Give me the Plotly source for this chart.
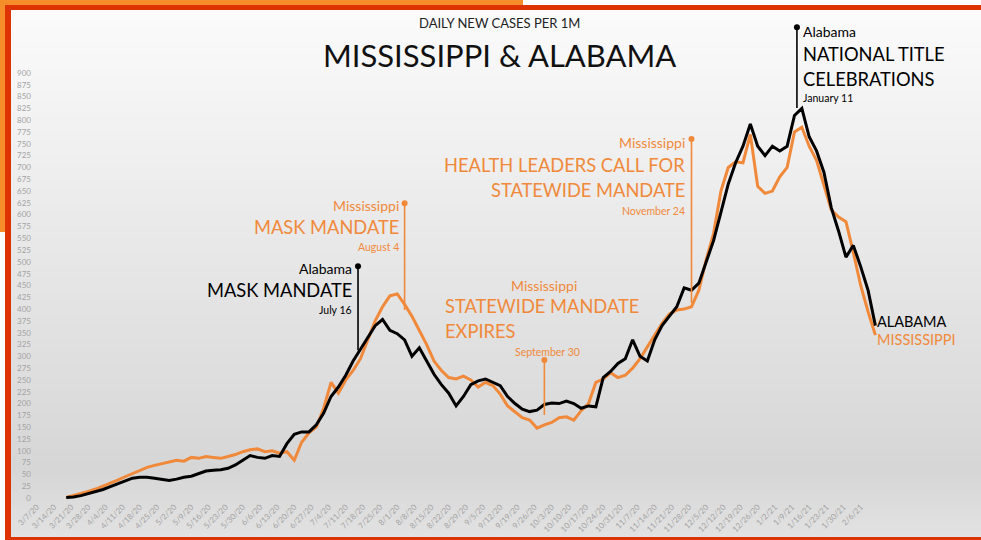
import plotly.graph_objects as go
import pandas as pd

# ---------------- data ----------------
start_date = "2020-03-19"
step_days = 3
alabama = [1, 2, 5, 9, 13, 18, 24, 30, 37, 42, 44, 44, 42, 40, 37, 40, 44, 46, 51, 57,
           59, 60, 63, 70, 80, 90, 86, 84, 90, 88, 115, 135, 140, 140, 155, 180, 215, 235, 260, 290,
           315, 340, 365, 378, 355, 348, 335, 300, 318, 290, 262, 240, 222, 195, 215, 240, 248, 252, 245, 238,
           215, 200, 188, 183, 186, 198, 201, 200, 205, 200, 190, 195, 193, 255, 268, 285, 295, 335, 300, 290,
           335, 365, 385, 405, 445, 440, 455, 500, 545, 605, 665, 710, 745, 792, 745, 725, 745, 735, 745, 810,
           825, 765, 735, 690, 615, 565, 510, 535, 490, 440, 365]
mississippi = [1, 5, 9, 14, 19, 25, 31, 38, 45, 52, 58, 65, 69, 73, 76, 80, 78, 86, 84, 88,
               86, 84, 88, 92, 98, 102, 104, 98, 100, 95, 98, 80, 118, 138, 150, 190, 245, 222, 250, 270,
               295, 335, 375, 405, 428, 432, 410, 385, 355, 325, 290, 270, 255, 252, 258, 250, 235, 245, 238, 220,
               195, 182, 170, 165, 148, 155, 160, 170, 172, 165, 185, 200, 245, 252, 265, 255, 260, 275, 295, 320,
               345, 370, 390, 398, 400, 405, 440, 505, 560, 650, 700, 712, 710, 770, 660, 645, 650, 680, 700, 775,
               785, 745, 715, 660, 610, 595, 585, 520, 450, 395, 345]

tick_dates = pd.date_range("2020-03-07", "2021-02-06", freq="7D")
tick_labels = [f"{d.month}/{d.day}/{d.strftime('%y')}" for d in tick_dates]
y_ticks = list(range(0, 901, 25))

event_dates = ["2020-07-16", "2020-08-04", "2020-09-30", "2020-11-29", "2021-01-11"]
event_tops = [491, 624, 292, 760, 997]
event_bottoms = [313, 398, 176, 413, 826]
event_state = ["Alabama", "Mississippi", "Mississippi", "Mississippi", "Alabama"]
event_titles = [["MASK MANDATE"], ["MASK MANDATE"], ["STATEWIDE MANDATE", "EXPIRES"],
                ["HEALTH LEADERS CALL FOR", "STATEWIDE MANDATE"], ["NATIONAL TITLE", "CELEBRATIONS"]]
event_labels = ["July 16", "August 4", "September 30", "November 24", "January 11"]

ORANGE = "#F0893A"
BLACK = "#000000"
FONT = "Lato"

dates = pd.date_range(start_date, periods=len(alabama), freq=f"{step_days}D")

W, H = 981, 540
def px(x):
    return x / W
def py(y):
    return 1 - y / H

fig = go.Figure()
fig.add_trace(go.Scatter(x=dates, y=mississippi, mode="lines",
                         line=dict(color=ORANGE, width=3), showlegend=False, hoverinfo="skip"))
fig.add_trace(go.Scatter(x=dates, y=alabama, mode="lines",
                         line=dict(color=BLACK, width=3), showlegend=False, hoverinfo="skip"))

annotations = []
for d, top, bot, st in zip(event_dates, event_tops, event_bottoms, event_state):
    col = BLACK if st == "Alabama" else ORANGE
    fig.add_trace(go.Scatter(x=[d, d], y=[top, bot], mode="lines", line=dict(color=col, width=1.6),
                             showlegend=False, hoverinfo="skip", cliponaxis=False))
    fig.add_trace(go.Scatter(x=[d], y=[top], mode="markers", marker=dict(color=col, size=6),
                             showlegend=False, hoverinfo="skip", cliponaxis=False))

TS = 18.3
# text placement per event (pixel offsets relative to top dot)
layouts = [
    dict(anchor="right", xs=-4, state=(0, -2), titles=[(0, -24)], lab=(0, -44)),
    dict(anchor="right", xs=-4, state=(0, -2), titles=[(0, -24)], lab=(0, -44)),
    dict(anchor="left", xs=-101, state=(0, 75, "center"), titles=[(0, 54), (0, 29)], lab=(3, 8, "center")),
    dict(anchor="right", xs=-4, state=(0, -3), titles=[(0, -26), (0, -51)], lab=(0, -72)),
    dict(anchor="left", xs=4, state=(0, -4), titles=[(0, -27), (0, -52)], lab=(0, -71)),
]
for i, (d, top, st, titles, lab) in enumerate(zip(event_dates, event_tops, event_state, event_titles, event_labels)):
    col = BLACK if st == "Alabama" else ORANGE
    L = layouts[i]
    def add(text, size, off):
        if len(off) == 3:
            anchor, xs = "center", off[0]
        else:
            anchor, xs = L["anchor"], L["xs"]
        annotations.append(dict(x=d, y=top, xref="x", yref="y", text=text, showarrow=False,
                                xanchor=anchor, yanchor="middle", xshift=xs, yshift=off[1],
                                font=dict(family=FONT, size=size, color=col)))
    add(st, 14, L["state"])
    for t, off in zip(titles, L["titles"]):
        add(t, TS, off)
    add(lab, 10.5, L["lab"])

# end labels
annotations.append(dict(x=dates[-1], y=alabama[-1], xref="x", yref="y", text="ALABAMA", showarrow=False,
                        xanchor="left", yanchor="middle", xshift=0, yshift=4,
                        font=dict(family=FONT, size=14.5, color=BLACK)))
annotations.append(dict(x=dates[-1], y=mississippi[-1], xref="x", yref="y", text="MISSISSIPPI", showarrow=False,
                        xanchor="left", yanchor="middle", xshift=0, yshift=-4,
                        font=dict(family=FONT, size=14.5, color=ORANGE)))
# titles
annotations.append(dict(x=px(499), y=py(23), xref="paper", yref="paper", text="DAILY NEW CASES PER 1M",
                        showarrow=False, xanchor="center", yanchor="middle",
                        font=dict(family=FONT, size=13, color="#222222")))
annotations.append(dict(x=px(499), y=py(55), xref="paper", yref="paper", text="MISSISSIPPI & ALABAMA",
                        showarrow=False, xanchor="center", yanchor="middle",
                        font=dict(family=FONT, size=31, color="#111111")))

shapes = []
# gradient background panel
y = 10
while y < 537:
    y2 = min(y + 4, 537)
    m = (y + y2) / 2
    if m < 470:
        c = 251 - (251 - 214) * (m - 10) / 460
    else:
        c = 214 + (226 - 214) * (m - 470) / 67
    c = int(round(c))
    shapes.append(dict(type="rect", xref="paper", yref="paper", x0=px(11), x1=1, y0=py(y2), y1=py(y),
                       fillcolor=f"rgb({c},{c},{c})", line=dict(width=0), layer="below"))
    y = y2
# frame
RED = "#DC3300"
FR_OR = "#F58D2A"
shapes += [
    dict(type="rect", xref="paper", yref="paper", x0=0, x1=px(523), y0=py(5), y1=1, fillcolor=FR_OR, line=dict(width=0), layer="below"),
    dict(type="rect", xref="paper", yref="paper", x0=0, x1=px(5), y0=py(232), y1=1, fillcolor=FR_OR, line=dict(width=0), layer="below"),
    dict(type="rect", xref="paper", yref="paper", x0=px(5), x1=1, y0=py(10), y1=py(5), fillcolor=RED, line=dict(width=0), layer="below"),
    dict(type="rect", xref="paper", yref="paper", x0=px(5), x1=px(11), y0=0, y1=py(5), fillcolor=RED, line=dict(width=0), layer="below"),
    dict(type="rect", xref="paper", yref="paper", x0=px(5), x1=1, y0=0, y1=py(537), fillcolor=RED, line=dict(width=0), layer="below"),
]

fig.update_layout(
    width=W, height=H, margin=dict(l=0, r=0, t=0, b=0, pad=0, autoexpand=False),
    paper_bgcolor="white", plot_bgcolor="rgba(0,0,0,0)",
    shapes=shapes, annotations=annotations, showlegend=False,
    xaxis=dict(domain=[px(32), px(970)], type="date", automargin=False,
               range=["2020-03-05 01:00", "2021-03-22 14:00"],
               tickvals=list(tick_dates), ticktext=tick_labels, tickangle=-45,
               showgrid=False, zeroline=False, showline=False, ticks="",
               tickfont=dict(family=FONT, size=8, color="#A3A3A3")),
    yaxis=dict(domain=[1 - 500 / H, 1 - 12 / H], range=[-4.24, 1029.2], automargin=False,
               tickvals=y_ticks, ticktext=[str(v) for v in y_ticks],
               showgrid=False, zeroline=False, showline=False, ticks="",
               tickfont=dict(family=FONT, size=8, color="#A3A3A3")),
)

post = ("document.documentElement.style.margin='0';document.body.style.margin='0';"
        "document.body.style.padding='0';document.body.style.overflow='hidden';"
        "var g=document.querySelector('.plotly-graph-div');"
        "g.style.position='absolute';g.style.left='0px';g.style.top='0px';")
fig.write_html("out.html", config={"displayModeBar": False}, post_script=post)
